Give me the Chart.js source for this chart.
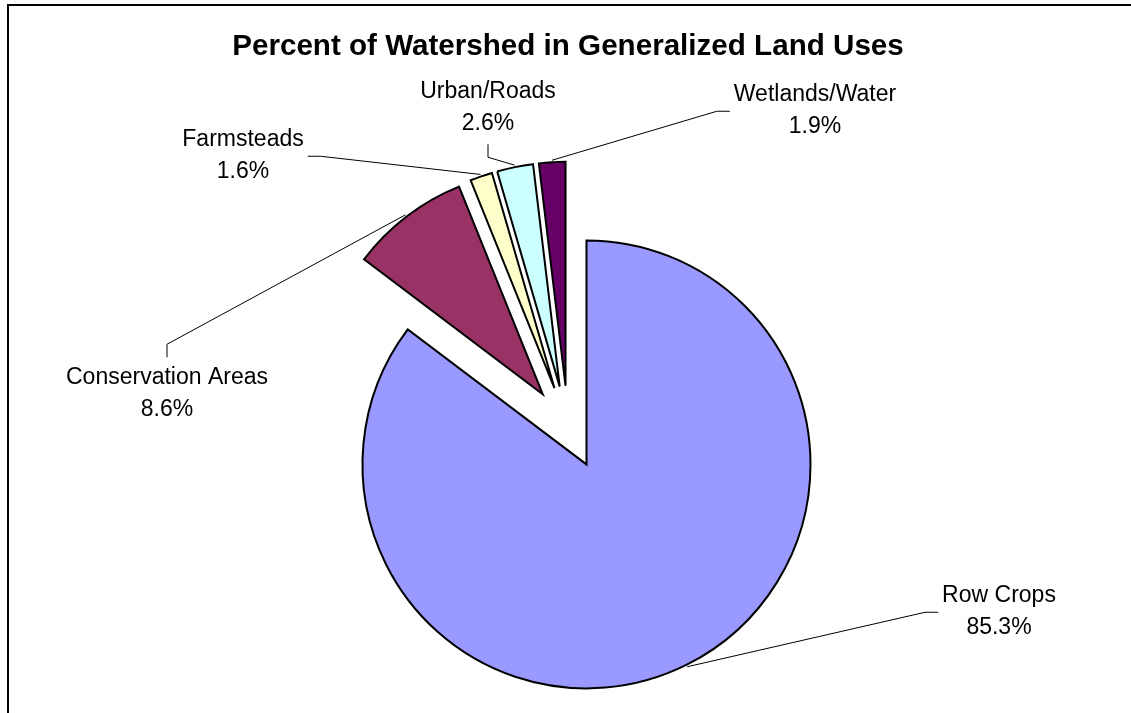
<!DOCTYPE html>
<html>
<head>
<meta charset="utf-8">
<title>Percent of Watershed in Generalized Land Uses</title>
<script src="https://cdn.jsdelivr.net/npm/chart.js@4.4.1/dist/chart.umd.min.js"></script>
<style>
  html, body { margin: 0; padding: 0; background: #fff; }
  #wrap { width: 1131px; height: 713px; }
</style>
</head>
<body>
<div id="wrap"><canvas id="landUseChart" width="1131" height="713"></canvas></div>
<script>
// === Datos ===
const categorias = ["Row Crops", "Conservation Areas", "Farmsteads", "Urban/Roads", "Wetlands/Water"];
const porcentajes = [85.3, 8.6, 1.6, 2.6, 1.9];
const colores = ["#9999FF", "#993366", "#FFFFCC", "#CCFFFF", "#660066"];

// posición de cada etiqueta respecto al centro del pie, y lado al que llega la línea guía
const etiquetasPos = [
  { dx: 431, dy: 184, lado: "left" },
  { dx: -401, dy: -34, lado: "top" },
  { dx: -325, dy: -272, lado: "right" },
  { dx: -80, dy: -320, lado: "bottom" },
  { dx: 247, dy: -317, lado: "left" }
];

const FUENTE = '"Liberation Sans", Arial, sans-serif';

// Marco del gráfico (solo borde superior e izquierdo visibles)
const marco = {
  id: "marco",
  beforeDraw(chart) {
    const ctx = chart.ctx;
    ctx.save();
    ctx.fillStyle = "#fff";
    ctx.fillRect(0, 0, chart.width, chart.height);
    ctx.strokeStyle = "#000";
    ctx.lineWidth = 2;
    ctx.beginPath();
    ctx.moveTo(chart.width, 5);
    ctx.lineTo(8, 5);
    ctx.lineTo(8, chart.height);
    ctx.stroke();
    ctx.restore();
  }
};

// Separar todas las porciones del centro la misma distancia (pie "explotado")
const explotar = {
  id: "explotar",
  afterDatasetsUpdate(chart, args, opts) {
    chart.getDatasetMeta(0).data.forEach(arc => {
      const mid = (arc.startAngle + arc.endAngle) / 2;
      arc.x += Math.cos(mid) * opts.distancia;
      arc.y += Math.sin(mid) * opts.distancia;
    });
  }
};

// Etiquetas con líneas guía
function cajaEtiqueta(chart, i) {
  const ctx = chart.ctx;
  const area = chart.chartArea;
  const cx = (area.left + area.right) / 2 + etiquetasPos[i].dx;
  const cy = (area.top + area.bottom) / 2 + etiquetasPos[i].dy;
  const lineas = [categorias[i], porcentajes[i].toFixed(1) + "%"];
  ctx.font = "23px " + FUENTE;
  const ancho = Math.max(...lineas.map(t => ctx.measureText(t).width));
  let ax = cx, ay = cy + 1, sx = 0, sy = 0;
  const lado = etiquetasPos[i].lado;
  if (lado === "left") { ax = cx - ancho / 2 - 4; sx = -13; }
  if (lado === "right") { ax = cx + ancho / 2 + 4; sx = 13; }
  if (lado === "top") { ay = cy - 36; sy = -13; }
  if (lado === "bottom") { ay = cy + 37; sy = 13; }
  return { cx, cy, lineas, ax, ay, kx: ax + sx, ky: ay + sy };
}

const etiquetas = {
  id: "etiquetas",
  beforeDatasetsDraw(chart) {
    const ctx = chart.ctx;
    const arcs = chart.getDatasetMeta(0).data;
    ctx.save();
    ctx.strokeStyle = "#000";
    ctx.lineWidth = 1;
    arcs.forEach((arc, i) => {
      const b = cajaEtiqueta(chart, i);
      const mid = (arc.startAngle + arc.endAngle) / 2;
      const px = arc.x + Math.cos(mid) * (arc.outerRadius + 2);
      const py = arc.y + Math.sin(mid) * (arc.outerRadius + 2);
      ctx.beginPath();
      ctx.moveTo(b.ax, b.ay);
      ctx.lineTo(b.kx, b.ky);
      ctx.lineTo(px, py);
      ctx.stroke();
    });
    ctx.restore();
  },
  afterDatasetsDraw(chart) {
    const ctx = chart.ctx;
    ctx.save();
    ctx.fillStyle = "#000";
    ctx.textAlign = "center";
    ctx.textBaseline = "middle";
    categorias.forEach((c, i) => {
      const b = cajaEtiqueta(chart, i);
      b.lineas.forEach((t, j) => ctx.fillText(t, b.cx, b.cy - 16 + j * 32));
    });
    ctx.restore();
  }
};

new Chart(document.getElementById("landUseChart"), {
  type: "pie",
  data: {
    labels: categorias,
    datasets: [{
      data: porcentajes,
      backgroundColor: colores,
      borderColor: "#000",
      borderWidth: 2,
      borderJoinStyle: "miter"
    }]
  },
  options: {
    responsive: false,
    animation: false,
    radius: 224,
    layout: { padding: { left: 5, right: 0, top: 0, bottom: 0 } },
    plugins: {
      legend: { display: false },
      tooltip: { enabled: false },
      title: {
        display: true,
        text: "Percent of Watershed in Generalized Land Uses",
        color: "#000",
        font: { family: FUENTE, size: 29.6, weight: "bold", lineHeight: 1.2 },
        padding: { top: 29, bottom: 77 }
      },
      explotar: { distancia: 41.5 }
    }
  },
  plugins: [marco, explotar, etiquetas]
});
</script>
</body>
</html>
